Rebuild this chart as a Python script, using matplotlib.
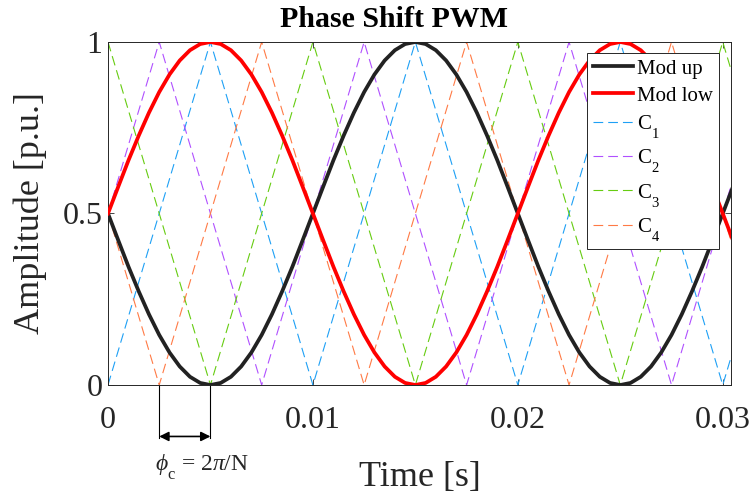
import numpy as np
import matplotlib
matplotlib.use("Agg")
import matplotlib.pyplot as plt
import matplotlib._mathtext as mathtext_internals

plt.rcParams['font.family'] = ['Liberation Serif', 'DejaVu Serif']
plt.rcParams['mathtext.fontset'] = 'custom'
plt.rcParams['mathtext.rm'] = 'Liberation Serif'
plt.rcParams['mathtext.it'] = 'Liberation Serif:italic'
plt.rcParams['lines.scale_dashes'] = False
# deeper subscripts, like the MATLAB tex interpreter
mathtext_internals.FontConstantsBase.sub1 = 0.9

# modulating waves, sampled every 0.5 ms
t_mod = np.linspace(0, 0.031, 63)
mod_up = [0.5, 0.422, 0.345, 0.273, 0.206, 0.146, 0.095, 0.054, 0.024, 0.006,
          0.0, 0.006, 0.024, 0.054, 0.095, 0.146, 0.206, 0.273, 0.345, 0.422,
          0.5, 0.578, 0.655, 0.727, 0.794, 0.854, 0.905, 0.946, 0.976, 0.994,
          1.0, 0.994, 0.976, 0.946, 0.905, 0.854, 0.794, 0.727, 0.655, 0.578,
          0.5, 0.422, 0.345, 0.273, 0.206, 0.146, 0.095, 0.054, 0.024, 0.006,
          0.0, 0.006, 0.024, 0.054, 0.095, 0.146, 0.206, 0.273, 0.345, 0.422,
          0.5, 0.578, 0.655]
mod_low = [0.5, 0.578, 0.655, 0.727, 0.794, 0.854, 0.905, 0.946, 0.976, 0.994,
           1.0, 0.994, 0.976, 0.946, 0.905, 0.854, 0.794, 0.727, 0.655, 0.578,
           0.5, 0.422, 0.345, 0.273, 0.206, 0.146, 0.095, 0.054, 0.024, 0.006,
           0.0, 0.006, 0.024, 0.054, 0.095, 0.146, 0.206, 0.273, 0.345, 0.422,
           0.5, 0.578, 0.655, 0.727, 0.794, 0.854, 0.905, 0.946, 0.976, 0.994,
           1.0, 0.994, 0.976, 0.946, 0.905, 0.854, 0.794, 0.727, 0.655, 0.578,
           0.5, 0.422, 0.345]

# triangular carriers (corner points)
t_c13 = [0, 0.005, 0.01, 0.015, 0.02, 0.025, 0.03, 0.035]
c1 = [0, 1, 0, 1, 0, 1, 0, 1]
c3 = [1, 0, 1, 0, 1, 0, 1, 0]
t_c24 = [0, 0.0025, 0.0075, 0.0125, 0.0175, 0.0225, 0.0275, 0.0325]
c2 = [0.5, 1, 0, 1, 0, 1, 0, 1]
c4 = [0.5, 0, 1, 0, 1, 0, 1, 0]

carriers = [(t_c13, c1, '#1ea0f5', 'C$_1$'),
            (t_c24, c2, '#b050ff', 'C$_2$'),
            (t_c13, c3, '#66cc11', 'C$_3$'),
            (t_c24, c4, '#ff7a45', 'C$_4$')]

# phase shift marker
phi_start = 0.0025
phi_end = 0.005

fig = plt.figure(figsize=(7.52, 4.98), dpi=100)
ax = fig.add_axes([0.1436, 0.2269, 0.972 - 0.1436, 0.9157 - 0.2269])

ax.plot(t_mod, mod_up, color='#222222', lw=2.7, label='Mod up', zorder=3)
ax.plot(t_mod, mod_low, color='#ff0000', lw=2.7, label='Mod low', zorder=3)
for tc, vc, col, lab in carriers:
    ax.plot(tc, vc, color=col, lw=0.8, dashes=(7, 3.6), label=lab)

ax.set_xlim(0, 0.0304)
ax.set_ylim(0, 1)
ax.set_xticks([0, 0.01, 0.02, 0.03])
ax.set_xticklabels(['0', '0.01', '0.02', '0.03'])
ax.set_yticks([0, 0.5, 1])
ax.set_yticklabels(['0', '0.5', '1'])
ax.tick_params(direction='in', length=4, width=0.6, labelsize=23,
               top=True, right=True, colors='#262626')
ax.tick_params(axis='x', pad=15)
ax.tick_params(axis='y', pad=4)
for s in ax.spines.values():
    s.set_linewidth(0.7)
    s.set_color('#262626')

ax.set_title('Phase Shift PWM', fontsize=21.5, fontweight='bold', pad=11, x=0.459)
ax.set_xlabel('Time [s]', fontsize=26, labelpad=19, color='#262626')
ax.set_ylabel('Amplitude [p.u.]', fontsize=26, labelpad=11, color='#262626')

leg = ax.legend(loc='upper right', bbox_to_anchor=(0.981, 0.968), fontsize=15,
                handlelength=1.9, labelspacing=0.35, borderpad=0.3,
                handletextpad=0.2, fancybox=False, framealpha=1,
                borderaxespad=0)
leg.get_frame().set_edgecolor('#262626')
leg.get_frame().set_linewidth(0.7)

# annotation of phase shift below axis
for tp in [phi_start, phi_end]:
    ax.plot([tp, tp], [0, -0.155], color='black', lw=0.8, clip_on=False)
ax.annotate('', xy=(phi_start, -0.15), xytext=(phi_end, -0.15),
            xycoords='data', textcoords='data', annotation_clip=False,
            arrowprops=dict(arrowstyle='<|-|>', color='black', lw=1.2,
                            mutation_scale=14, shrinkA=0, shrinkB=0))
ax.text(0.0046, -0.24, r'$\phi_{\rm c}$ = 2$\pi$/N', fontsize=17,
        ha='center', va='center', color='#262626', clip_on=False)

fig.savefig('out.png', dpi=100)
